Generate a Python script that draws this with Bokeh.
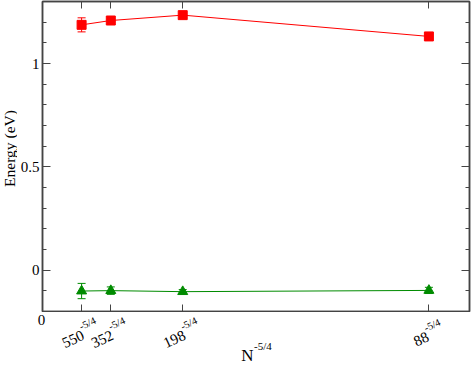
import math
from bokeh.plotting import figure
from bokeh.layouts import column, row
from bokeh.models import (ColumnDataSource, FixedTicker, LinearAxis, Range1d,
                          Whisker, TeeHead, CustomJSTickFormatter)
from bokeh.core.properties import value
from bokeh.embed import file_html
from bokeh.resources import INLINE

# ---- data ----
sizes_n = [550, 352, 198, 88]
red_vals = [1.187, 1.208, 1.234, 1.131]
red_err = [0.034, 0.006, 0.006, 0.006]
green_vals = [-0.101, -0.099, -0.104, -0.098]
green_err = [0.037, 0.018, 0.010, 0.015]
y_major = [0, 0.5, 1]
y_minor = [-0.2, -0.1, 0.1, 0.2, 0.3, 0.4, 0.6, 0.7, 0.8, 0.9, 1.1, 1.2, 1.3]
sup_text = "-5/4"
x_title = "N"
y_title = "Energy (eV)"

xs = [n ** -1.25 for n in sizes_n]

FONT = "Liberation Serif"
AX = "#444444"
RED = "#ff0000"
GREEN = "#008b00"

# ---- layout constants (pixels) ----
W, H = 471, 368
LW = 17                   # left strip width (y title)
FL, FR = 41, 469          # frame left / right (page px)
H1 = 312                  # main figure height
X0, X1 = 0.0, 0.0041
k = (FR - FL) / (X1 - X0)  # px per data unit


def no_labels(ax):
    ax.formatter = CustomJSTickFormatter(code="return '';")
    ax.major_label_text_font_size = "0px"
    ax.major_label_standoff = 0


def style_axis(ax, tin, minor_in=0):
    ax.major_tick_in = tin
    ax.major_tick_out = 0
    ax.minor_tick_in = minor_in
    ax.minor_tick_out = 0
    ax.axis_line_color = AX
    ax.axis_line_width = 1.5
    ax.major_tick_line_color = AX
    ax.minor_tick_line_color = AX


p = figure(width=W - LW, height=H1, output_backend="svg", toolbar_location=None,
           x_range=Range1d(X0, X1), y_range=Range1d(-0.2, 1.3),
           min_border_left=FL - LW, min_border_right=W - FR, min_border_top=1,
           min_border_bottom=1, frame_align=False)
p.grid.visible = False
p.outline_line_color = AX
p.outline_line_width = 1.5

# left axis
yl = p.yaxis[0]
yl.ticker = FixedTicker(ticks=y_major, minor_ticks=y_minor)
style_axis(yl, 8, 4)
yl.major_label_standoff = 3
yl.major_label_text_font = FONT
yl.major_label_text_font_size = "15px"
yl.major_label_text_color = "black"

# bottom axis (ticks only)
xb = p.xaxis[0]
xb.ticker = FixedTicker(ticks=xs, minor_ticks=[])
style_axis(xb, 7)
no_labels(xb)

# top axis
xt = LinearAxis(ticker=FixedTicker(ticks=xs, minor_ticks=[]))
style_axis(xt, 7)
no_labels(xt)
p.add_layout(xt, "above")

# right axis
yr = LinearAxis(ticker=FixedTicker(ticks=y_major, minor_ticks=y_minor))
style_axis(yr, 8, 4)
no_labels(yr)
p.add_layout(yr, "right")

# series
red_src = ColumnDataSource(dict(x=xs, y=red_vals,
                                lo=[v - e for v, e in zip(red_vals, red_err)],
                                hi=[v + e for v, e in zip(red_vals, red_err)]))
green_src = ColumnDataSource(dict(x=xs, y=green_vals,
                                  lo=[v - e for v, e in zip(green_vals, green_err)],
                                  hi=[v + e for v, e in zip(green_vals, green_err)]))

for src, col, mk, sz in [(red_src, RED, "square", 9), (green_src, GREEN, "triangle", 10)]:
    p.line("x", "y", source=src, line_color=col, line_width=1)
    p.add_layout(Whisker(source=src, base="x", lower="lo", upper="hi", line_color=col,
                         line_width=1,
                         lower_head=TeeHead(size=8, line_color=col, line_width=1),
                         upper_head=TeeHead(size=8, line_color=col, line_width=1)))
    p.scatter("x", "y", source=src, marker=mk, size=sz, fill_color=col, line_color=col)


def strip(width, height, xr, yr):
    f = figure(width=width, height=height, output_backend="svg", toolbar_location=None,
               x_range=xr, y_range=yr, min_border_left=0, min_border_right=0,
               min_border_top=0, min_border_bottom=0, x_axis_location=None,
               y_axis_location=None, frame_align=False)
    f.grid.visible = False
    f.outline_line_color = None
    return f


# ---- left strip with the y title ----
ls = strip(LW, H1, Range1d(0, LW), Range1d(-H1, 0))
ls.text(x=[8.5], y=[-148], text=[y_title], angle=math.pi / 2, text_align="center",
        text_baseline="middle", text_font=value(FONT), text_font_size="15.5px",
        text_color="black")

# ---- bottom strip with the x labels ----
SH = H - H1
s = strip(W, SH, Range1d(X0 - FL / k, X1 + (W - FR) / k), Range1d(-SH, 0))

ang = math.radians(25)
base_px = 15
sup_px = 10.5
raise_px = 8
drop = 23
bx, by, btxt = [], [], []
spx, spy, stxt = [], [], []
for n, x in zip(sizes_n, xs):
    base = str(n)
    wb = 0.5 * base_px * len(base)
    ws = 1.61 * sup_px
    d = (wb - ws) / 2
    jx = math.cos(ang) * d
    jdown = drop - math.sin(ang) * d
    bx.append(x + jx / k)
    by.append(-jdown)
    btxt.append(base)
    spx.append(x + (jx - math.sin(ang) * raise_px) / k)
    spy.append(-(jdown - math.cos(ang) * raise_px))
    stxt.append(sup_text)

s.text(x=bx, y=by, text=btxt, angle=ang, text_align="right", text_baseline="alphabetic",
       text_font=value(FONT), text_font_size=f"{base_px}px", text_color="black")
s.text(x=spx, y=spy, text=stxt, angle=ang, text_align="left", text_baseline="alphabetic",
       text_font=value(FONT), text_font_size=f"{sup_px}px", text_color="black")

# "0" tick label at the left edge
s.text(x=[X0], y=[-2], text=["0"], text_align="center", text_baseline="top",
       text_font=value(FONT), text_font_size="15px", text_color="black")

# x axis title N^-5/4
xc = (X0 + X1) / 2
s.text(x=[xc - 2 / k], y=[-43], text=[x_title], text_align="right",
       text_baseline="alphabetic", text_font=value(FONT), text_font_size="17px",
       text_color="black")
s.text(x=[xc - 1.5 / k], y=[-33], text=[sup_text], text_align="left",
       text_baseline="alphabetic", text_font=value(FONT), text_font_size="11px",
       text_color="black")

layout = column(row(ls, p, spacing=0), s, spacing=0)
open("out.html", "w").write(file_html(layout, INLINE))
